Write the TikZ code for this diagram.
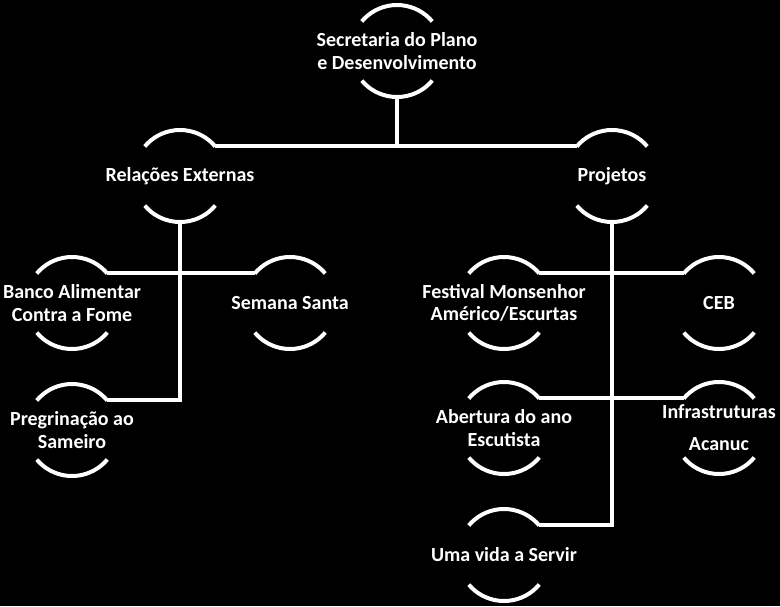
\documentclass[tikz,border=0pt]{standalone}
\usepackage{fontspec}
\setmainfont{Carlito}
\usepackage{tikz}
\usetikzlibrary{positioning}
\tikzstyle{wire} = [draw=white, line width=4pt]
\tikzstyle{ring} = [circle, draw=white, line width=4pt, minimum size=92pt, inner sep=0pt, outer sep=0pt,
  dash pattern=on 80.29pt off 64.23pt, dash phase=112.4pt]
\tikzstyle{caption} = [text=white, align=center, inner sep=0pt, font=\bfseries\fontsize{20}{22.5}\selectfont]

\begin{document}
\begin{tikzpicture}[x=1pt, y=-1pt]
    \fill[black] (0,0) rectangle (780,606);
    \useasboundingbox (0,0) rectangle (780,606);

    % Topo
    \node (sec) [ring, label={[caption]center:Secretaria do Plano\\e Desenvolvimento}] at (397,51) {};

    % Departamentos
    \node (rel) [ring, label={[caption]center:Relações Externas}] at (180,176) {};
    \node (proj) [ring, label={[caption]center:Projetos}] at (612,176) {};

    % Relacoes Externas
    \node (banco) [ring, label={[caption]center:Banco Alimentar\\Contra a Fome}] at (72,303) {};
    \node (semana) [ring, right=126pt of banco, label={[caption]center:Semana Santa}] {};
    \node (preg) [ring, below=35pt of banco, label={[caption]center:Pregrinação ao\\Sameiro}] {};

    % Projetos
    \node (fest) [ring, label={[caption]center:Festival Monsenhor\\Américo/Escurtas}] at (504,303) {};
    \node (ceb) [ring, right=123pt of fest, label={[caption]center:CEB}] {};
    \node (abert) [ring, below=33pt of fest, label={[caption]center:Abertura do ano\\Escutista}] {};
    \node (infra) [ring, below=33pt of ceb, label={[caption, font=\bfseries\fontsize{20}{32}\selectfont]center:Infrastruturas\\Acanuc}] {};
    \node (vida) [ring, below=35pt of abert, label={[caption]center:Uma vida a Servir}] {};

    % Ligacoes
    \draw[wire] (sec.south) -- (sec.south |- rel.40);
    \draw[wire] (rel.40) -- (proj.140);
    \draw[wire] (rel.south) |- (preg.40);
    \draw[wire] (banco.40) -- (semana.140);
    \draw[wire] (proj.south) |- (vida.40);
    \draw[wire] (fest.40) -- (ceb.140);
    \draw[wire] (abert.40) -- (infra.140);
\end{tikzpicture}
\end{document}
